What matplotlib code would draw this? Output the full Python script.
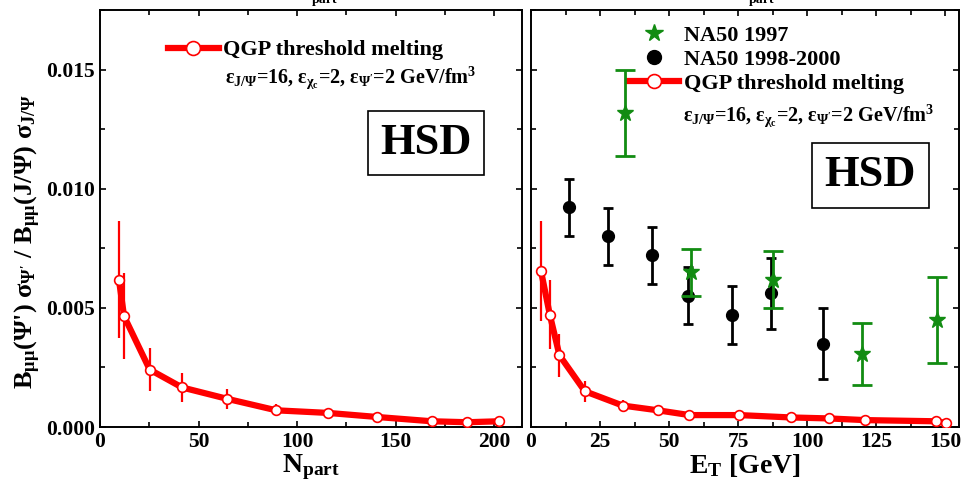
import matplotlib
matplotlib.use("Agg")
import matplotlib.pyplot as plt
from matplotlib.lines import Line2D
from matplotlib.ticker import MultipleLocator, FormatStrFormatter

plt.rcParams['font.family'] = ['Liberation Serif', 'DejaVu Serif']
plt.rcParams['font.weight'] = 'bold'
plt.rcParams['mathtext.fontset'] = 'custom'
plt.rcParams['mathtext.rm'] = 'Liberation Serif:bold'
plt.rcParams['mathtext.it'] = 'Liberation Serif:bold'
plt.rcParams['mathtext.bf'] = 'Liberation Serif:bold'

# left panel: HSD vs N_part
npart = [9.6, 12.2, 25.2, 41.6, 64.6, 89.4, 115.8, 140.6, 168.3, 186.2, 202.3]
npart_y = [6.18e-3, 4.65e-3, 2.41e-3, 1.66e-3, 1.18e-3, 0.70e-3, 0.59e-3, 0.42e-3, 0.24e-3, 0.20e-3, 0.24e-3]
npart_err = [2.45e-3, 1.80e-3, 0.90e-3, 0.62e-3, 0.43e-3, 0.25e-3, 0.15e-3, 0.12e-3, 0.10e-3, 0.08e-3, 0.08e-3]

# right panel: HSD vs E_T
et = [3.6, 6.8, 10.3, 19.5, 33.2, 46.0, 57.4, 75.4, 94.2, 107.8, 120.8, 146.5, 150.2]
et_y = [6.56e-3, 4.72e-3, 3.01e-3, 1.50e-3, 0.90e-3, 0.70e-3, 0.50e-3, 0.50e-3, 0.40e-3, 0.36e-3, 0.29e-3, 0.24e-3, 0.17e-3]
et_err = [2.1e-3, 1.45e-3, 0.90e-3, 0.45e-3, 0.25e-3, 0.15e-3, 0.12e-3, 0.12e-3, 0.10e-3, 0.10e-3, 0.10e-3, 0.10e-3, 0.08e-3]

# NA50 1998-2000
na50_98_x = [13.9, 27.9, 43.9, 57.0, 72.9, 86.9, 105.8]
na50_98_y = [9.22e-3, 8.00e-3, 7.20e-3, 5.51e-3, 4.70e-3, 5.61e-3, 3.50e-3]
na50_98_err = [1.2e-3, 1.2e-3, 1.2e-3, 1.2e-3, 1.2e-3, 1.5e-3, 1.5e-3]

# NA50 1997
na50_97_x = [33.9, 57.9, 87.8, 119.8, 147.0]
na50_97_y = [13.18e-3, 6.49e-3, 6.18e-3, 3.06e-3, 4.48e-3]
na50_97_err = [1.8e-3, 1.0e-3, 1.2e-3, 1.3e-3, 1.8e-3]

W, H = 974, 486
fig = plt.figure(figsize=(W / 100, H / 100), dpi=100)
ax1 = fig.add_axes([100 / W, 1 - 427 / H, 422 / W, 417 / H])
ax2 = fig.add_axes([531 / W, 1 - 427 / H, 428 / W, 417 / H], sharey=ax1)

RED = '#ff0000'
GREEN = '#128c12'
eps_txt = r"$\varepsilon_{J/\Psi}$=16, $\varepsilon_{\chi_c}$=2, $\varepsilon_{\Psi'}$=2 GeV/fm$^3$"

def qgp(ax, x, y, e):
    ax.errorbar(x, y, yerr=e, fmt='none', ecolor=RED, elinewidth=1.6, capsize=0, zorder=3)
    ax.plot(x, y, '-', color=RED, lw=4.5, zorder=4)
    ax.plot(x, y, 'o', ms=7, mfc='white', mec=RED, mew=1.2, zorder=5)

qgp(ax1, npart, npart_y, npart_err)
qgp(ax2, et, et_y, et_err)

ax2.errorbar(na50_98_x, na50_98_y, yerr=na50_98_err, fmt='o', color='black', ms=8.5,
             elinewidth=2, capsize=3.6, capthick=2, zorder=6)
ax2.errorbar(na50_97_x, na50_97_y, yerr=na50_97_err, fmt='*', color=GREEN, ms=12,
             elinewidth=2, capsize=7, capthick=2, zorder=7)

qgp_handle = Line2D([], [], color=RED, lw=4.5, marker='o', ms=10, mfc='white', mec=RED, mew=1.2)
star_handle = Line2D([], [], ls='none', marker='*', color=GREEN, ms=13)
dot_handle = Line2D([], [], ls='none', marker='o', color='black', ms=10)

ax1.legend([qgp_handle], ['QGP threshold melting'], loc='center left',
           bbox_to_anchor=(0.161, 0.904), frameon=False, borderpad=0, borderaxespad=0,
           handlelength=2.3, handletextpad=0.2, prop={'size': 16, 'weight': 'bold'})
ax1.text(0.297, 0.838, eps_txt, transform=ax1.transAxes, fontsize=14.5, va='center', ha='left')

ax2.legend([star_handle, dot_handle, qgp_handle],
           ['NA50 1997', 'NA50 1998-2000', 'QGP threshold melting'], loc='upper left',
           bbox_to_anchor=(0.2266, 0.963), frameon=False, borderpad=0, borderaxespad=0,
           handlelength=2.3, handletextpad=0.2, labelspacing=0.15,
           prop={'size': 16, 'weight': 'bold'})
ax2.text(0.355, 0.746, eps_txt, transform=ax2.transAxes, fontsize=14.5, va='center', ha='left')

box = dict(boxstyle='square,pad=0.28', fc='white', ec='black', lw=1.2)
ax1.text(0.7725, 0.681, 'HSD', transform=ax1.transAxes, fontsize=32, ha='center', va='center', bbox=box)
ax2.text(0.793, 0.604, 'HSD', transform=ax2.transAxes, fontsize=32, ha='center', va='center', bbox=box)

ax1.set_xlim(0, 214)
ax2.set_xlim(0, 155)
ax1.set_ylim(0, 0.0175)
ax1.xaxis.set_major_locator(MultipleLocator(50))
ax1.xaxis.set_minor_locator(MultipleLocator(25))
ax2.xaxis.set_major_locator(MultipleLocator(25))
ax2.xaxis.set_minor_locator(MultipleLocator(12.5))
ax1.yaxis.set_major_locator(MultipleLocator(0.005))
ax1.yaxis.set_minor_locator(MultipleLocator(0.0025))
ax1.yaxis.set_major_formatter(FormatStrFormatter('%.3f'))

for ax in (ax1, ax2):
    for s in ax.spines.values():
        s.set_linewidth(1.4)
    ax.tick_params(which='both', direction='in', top=True, right=True, width=1.2, labelsize=15.5)
    ax.tick_params(which='major', length=4.5)
    ax.tick_params(which='minor', length=3.5)
ax2.tick_params(labelleft=False)

ax1.set_xlabel(r"N$_{\mathrm{part}}$", fontsize=20, fontweight='bold', labelpad=0)
ax2.set_xlabel(r"E$_{\mathrm{T}}$ [GeV]", fontsize=20, fontweight='bold', labelpad=0)
fig.text(28 / W, 1 - 241 / H,
         r"B$_{\mu\mu}$($\Psi$') $\sigma_{\Psi'}$ / B$_{\mu\mu}$(J/$\Psi$) $\sigma_{J/\Psi}$",
         rotation=90, ha='center', va='center', fontsize=19, fontweight='bold')

# clipped subscripts of titles above the visible area
fig.text(325 / W, 1 - 3 / H, 'part', ha='center', va='baseline', fontsize=10, fontweight='bold')
fig.text(762 / W, 1 - 3 / H, 'part', ha='center', va='baseline', fontsize=10, fontweight='bold')

fig.savefig('out.png', dpi=100)
